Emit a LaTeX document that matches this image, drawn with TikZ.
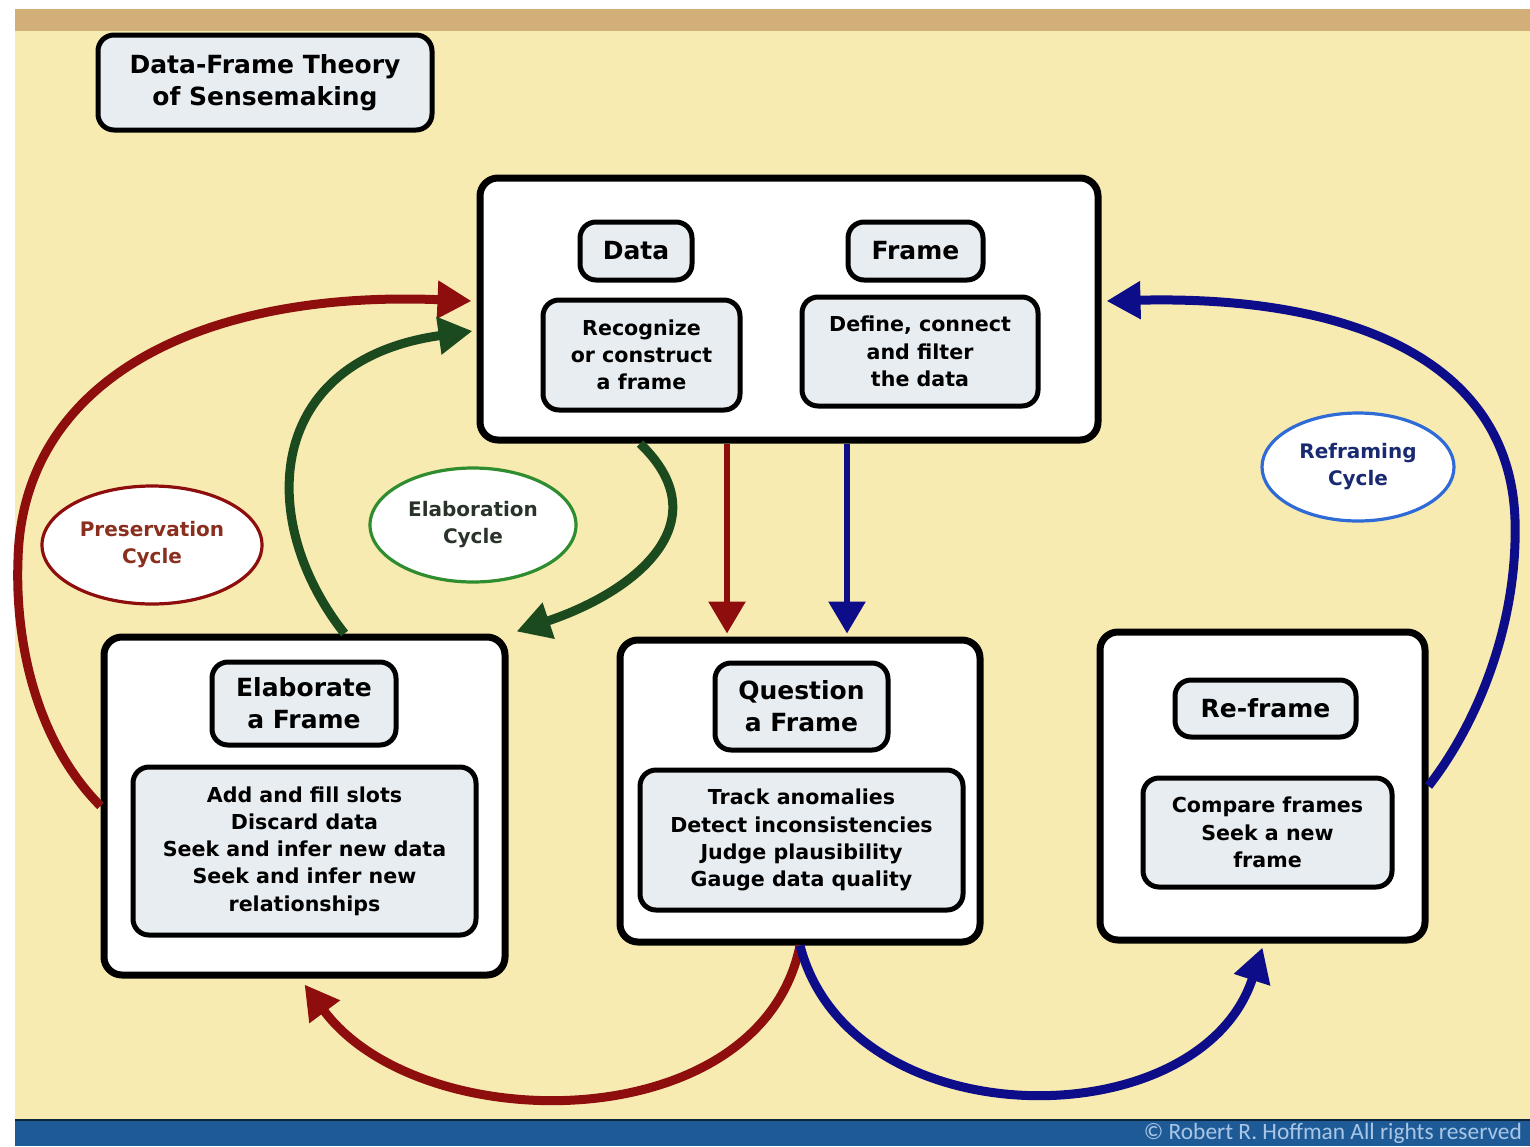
\documentclass[tikz,border=0pt]{standalone}
\usepackage{fontspec}
\setmainfont{DejaVu Sans}
\newfontfamily\cpyfont{Carlito}
\usetikzlibrary{arrows.meta,shapes.geometric,calc}
\definecolor{bgyel}{HTML}{F8EBB2}
\definecolor{tanbar}{HTML}{D2AE78}
\definecolor{botbar}{HTML}{1E5B96}
\definecolor{cpy}{HTML}{A9C6E6}
\definecolor{boxfill}{HTML}{E7EDF1}
\definecolor{dred}{HTML}{8E0E0E}
\definecolor{dgreen}{HTML}{1B4A1E}
\definecolor{navy}{HTML}{0D0D8A}
\definecolor{egreen}{HTML}{2F8C2F}
\definecolor{rblue}{HTML}{2E6BD6}
\definecolor{ptext}{HTML}{8A2E1E}
\definecolor{etext}{HTML}{2A332A}
\definecolor{rtext}{HTML}{1A2A70}
\tikzset{
  bigbox/.style={draw=black, line width=3.5pt, fill=white, rounded corners=9pt, inner sep=0pt},
  smallbox/.style={draw=black, line width=2.5pt, fill=boxfill, rounded corners=8pt, align=center, inner sep=0pt, font=\bfseries\fontsize{10.3}{13.6}\selectfont},
  headbox/.style={smallbox, font=\bfseries\fontsize{12.5}{16}\selectfont},
  cyc/.style={ellipse, line width=1.6pt, fill=white, align=center, inner sep=0pt, font=\bfseries\fontsize{10}{13.5}\selectfont},
  arr/.style={line width=4.5pt, -{Triangle[length=17pt,width=18pt]}},
  sarr/.style={line width=3pt, -{Triangle[length=16pt,width=18pt]}},
}
\begin{document}
\begin{tikzpicture}[x=0.5pt,y=-0.5pt]
\useasboundingbox (0,0) rectangle (1530,1146);
% background
\fill[white] (0,0) rectangle (1530,1146);
\fill[bgyel] (15,30) rectangle (1530,1120);
\fill[tanbar] (15,9) rectangle (1530,31);
\fill[botbar] (15,1120) rectangle (1530,1146);
\draw[black!60!botbar, line width=0.8pt] (15,1120) -- (1530,1120);
\node[anchor=east, text=cpy, font=\cpyfont\fontsize{11.7}{13}\selectfont] (cpy) at (1529,1133) {© Robert R. Hoffman All rights reserved};

% title
\node[headbox, minimum width=167pt, minimum height=47.5pt] (title) at (265,82.5) {Data-Frame Theory\\of Sensemaking};

% top box
\node[bigbox, minimum width=309pt, minimum height=131pt] (top) at (789,309) {};
\node[headbox, minimum width=56pt, minimum height=29pt] (data) at (636,251) {Data};
\node[headbox, minimum width=67.5pt, minimum height=29pt] (frame) at (915.5,251) {Frame};
\node[smallbox, minimum width=98.5pt, minimum height=55pt] (recog) at (641.5,355) {Recognize\\or construct\\a frame};
\node[smallbox, minimum width=118pt, minimum height=54.5pt] (define) at (920,351.5) {Define, connect\\and filter\\the data};

% elaborate box
\node[bigbox, minimum width=200.5pt, minimum height=169pt] (elab) at (304.5,806) {};
\node[headbox, minimum width=92pt, minimum height=41.5pt] (elabh) at (304,703.5) {Elaborate\\a Frame};
\node[smallbox, minimum width=171.5pt, minimum height=84pt] (elabt) at (304.5,851) {Add and fill slots\\Discard data\\Seek and infer new data\\Seek and infer new\\relationships};

% question box
\node[bigbox, minimum width=180pt, minimum height=151pt] (q) at (800,791) {};
\node[headbox, minimum width=86.5pt, minimum height=43.5pt] (qh) at (801.5,706.5) {Question\\a Frame};
\node[smallbox, minimum width=161.5pt, minimum height=70pt] (qt) at (801.5,840) {Track anomalies\\Detect inconsistencies\\Judge plausibility\\Gauge data quality};

% reframe box
\node[bigbox, minimum width=162.5pt, minimum height=154pt] (rf) at (1262.5,786) {};
\node[headbox, minimum width=90.5pt, minimum height=28.5pt] (rfh) at (1265.5,708.5) {Re-frame};
\node[smallbox, minimum width=124.5pt, minimum height=54.5pt] (rft) at (1267.5,832.5) {Compare frames\\Seek a new\\frame};

% cycle ellipses
\node[cyc, draw=dred, text=ptext, minimum width=110pt, minimum height=59pt] (pres) at (152,545) {Preservation\\Cycle};
\node[cyc, draw=egreen, text=etext, minimum width=103pt, minimum height=57pt] (elabc) at (473,525) {Elaboration\\Cycle};
\node[cyc, draw=rblue, text=rtext, minimum width=96pt, minimum height=54pt] (refc) at (1358,467) {Reframing\\Cycle};

% connectors
\coordinate (redtop) at ([xshift=-31pt]top.south);
\coordinate (bluetop) at ([xshift=29pt]top.south);
\coordinate (gstart) at ([xshift=-74.5pt]top.south);
\coordinate (gelab) at ([xshift=20pt]elab.north);

\draw[arr, dred] (elab.west) .. controls (35,740) and (15,640) .. (18,560)
   .. controls (22,380) and (200,290) .. ([yshift=4pt,xshift=-2.5pt]top.west);
\draw[arr, dgreen] (gelab) .. controls (255,520) and (265,360) .. ([yshift=-11pt,xshift=-2pt]top.west);
\draw[arr, dgreen] (gstart) .. controls (720,520) and (640,590) .. ([xshift=4pt,yshift=1pt]elab.north east);
\draw[sarr, dred] (redtop) -- ([yshift=1.5pt]redtop |- q.north);
\draw[sarr, navy] (bluetop) -- ([yshift=1.5pt]bluetop |- q.north);
\draw[arr, navy] (rf.east) .. controls (1480,720) and (1518,620) .. (1515,520)
   .. controls (1510,360) and (1350,295) .. ([yshift=4pt,xshift=2.5pt]top.east);
\draw[arr, dred] (q.south) .. controls (760,1140) and (420,1140) .. ([yshift=-3pt]elab.south);
\draw[arr, navy] (q.south) .. controls (850,1140) and (1200,1140) .. ([yshift=-2pt]rf.south);
\end{tikzpicture}
\end{document}
